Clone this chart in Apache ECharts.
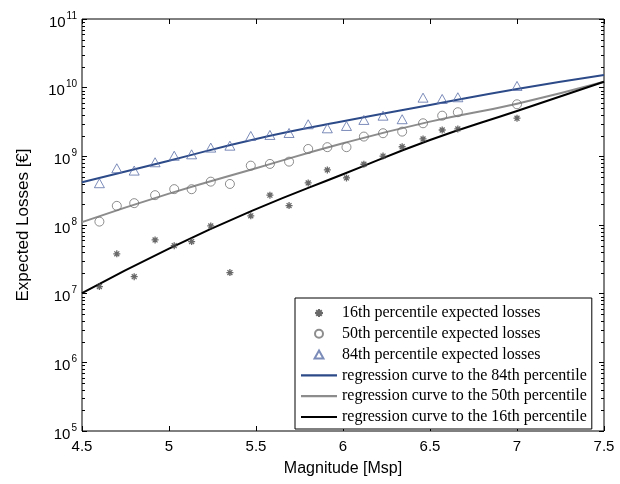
<!DOCTYPE html>
<html>
<head>
<meta charset="utf-8">
<script src="https://cdn.jsdelivr.net/npm/echarts@6/dist/echarts.min.js"></script>
<style>html,body{margin:0;padding:0;background:#fff}#c{width:620px;height:484px}</style>
</head>
<body>
<div id="c"></div>
<script>
// ---- data ----
var magnitudes = [4.6, 4.7, 4.8, 4.92, 5.03, 5.13, 5.24, 5.35, 5.47, 5.58, 5.69, 5.8, 5.91, 6.02, 6.12, 6.23, 6.34, 6.46, 6.57, 6.66, 7.0];
var p16Losses = [1.27e7, 3.8e7, 1.77e7, 6.07e7, 5.0e7, 5.73e7, 9.7e7, 2.03e7, 1.36e8, 2.72e8, 1.92e8, 4.1e8, 6.34e8, 4.85e8, 7.67e8, 1.01e9, 1.38e9, 1.79e9, 2.42e9, 2.51e9, 3.59e9];
var p50Losses = [1.12e8, 1.90e8, 2.08e8, 2.72e8, 3.33e8, 3.32e8, 4.28e8, 3.96e8, 7.32e8, 7.75e8, 8.37e8, 1.28e9, 1.36e9, 1.36e9, 1.94e9, 2.17e9, 2.29e9, 3.03e9, 3.91e9, 4.39e9, 5.73e9];
var p84Losses = [4.06e8, 6.7e8, 6.2e8, 8.2e8, 1.02e9, 1.07e9, 1.34e9, 1.43e9, 1.98e9, 2.05e9, 2.19e9, 2.93e9, 2.56e9, 2.77e9, 3.39e9, 3.91e9, 3.47e9, 7.15e9, 6.85e9, 7.25e9, 1.06e10];
var curveMagnitudes = [4.5, 5.0, 5.5, 6.0, 6.5, 7.0, 7.5];
var reg84 = [4.2e8, 8.65e8, 1.79e9, 3.24e9, 5.6e9, 9.57e9, 1.53e10];
var reg50 = [1.1e8, 2.86e8, 6.71e8, 1.55e9, 3.2e9, 5.85e9, 1.22e10];
var reg16 = [1.02e7, 4.54e7, 1.7e8, 5.48e8, 1.73e9, 4.58e9, 1.22e10];
var yDecadeExponents = [5, 6, 7, 8, 9, 10, 11];
var minorMultipliers = [2, 3, 4, 5, 6, 7, 8, 9];

var names = [
  '16th percentile expected losses',
  '50th percentile expected losses',
  '84th percentile expected losses',
  'regression curve to the 84th percentile',
  'regression curve to the 50th percentile',
  'regression curve to the 16th percentile'
];

function pairs(xs, ys) { return xs.map(function (x, i) { return [x, ys[i]]; }); }

var minorTickValues = [];
yDecadeExponents.slice(0, -1).forEach(function (e) {
  minorMultipliers.forEach(function (m) { minorTickValues.push(m * Math.pow(10, e)); });
});

var sans = 'Liberation Sans';
var serif = 'Liberation Serif';
var starPath = 'path://M0,-5L0,5M-5,0L5,0M-3.5,-3.5L3.5,3.5M-3.5,3.5L3.5,-3.5';
var triPath = 'path://M0,-5L5,4L-5,4Z';
var lineIcon = 'path://M0,0H36V2.2H0Z';

function majorY(pos) {
  return {
    type: 'log', logBase: 10, min: 1e5, max: 1e11, position: pos,
    axisLine: { show: false }, splitLine: { show: false }, axisLabel: { show: false },
    axisTick: { show: true, inside: true, length: 5, lineStyle: { color: '#000', width: 1 } }
  };
}

var yMain = majorY('left');
yMain.axisLabel = {
  show: true, margin: 5,
  formatter: function (v) { return '{b|10}{s|' + Math.round(Math.log10(v)) + '}'; },
  rich: {
    b: { fontFamily: sans, fontSize: 15, color: '#000', lineHeight: 22, verticalAlign: 'bottom' },
    s: { fontFamily: sans, fontSize: 10, color: '#000', lineHeight: 22, verticalAlign: 'top', padding: [3, 0, 0, 1] }
  }
};
yMain.name = 'Expected Losses [€]';
yMain.nameLocation = 'middle';
yMain.nameGap = 50;
yMain.nameTextStyle = { fontFamily: sans, fontSize: 17, color: '#000' };

var option = {
  animation: false,
  backgroundColor: '#fff',
  grid: { left: 82, right: 16, top: 19, bottom: 53, show: true, borderColor: '#000', borderWidth: 1, backgroundColor: 'transparent' },
  xAxis: [
    {
      type: 'value', min: 4.5, max: 7.5, interval: 0.5, position: 'bottom',
      axisLine: { show: false }, splitLine: { show: false },
      axisTick: { show: true, inside: true, length: 5, lineStyle: { color: '#000' } },
      axisLabel: { margin: 8, fontFamily: sans, fontSize: 15, color: '#000',
        formatter: function (v) { return String(v); } },
      name: 'Magnitude [Msp]', nameLocation: 'middle', nameGap: 30,
      nameTextStyle: { fontFamily: sans, fontSize: 16, color: '#000' }
    },
    {
      type: 'value', min: 4.5, max: 7.5, interval: 0.5, position: 'top',
      axisLine: { show: false }, splitLine: { show: false }, axisLabel: { show: false },
      axisTick: { show: true, inside: true, length: 5, lineStyle: { color: '#000' } }
    }
  ],
  yAxis: [yMain, majorY('right')],
  legend: {
    orient: 'vertical', left: 295, top: 298,
    data: [
      { name: names[0] },
      { name: names[1] },
      { name: names[2] },
      { name: names[3], icon: lineIcon },
      { name: names[4], icon: lineIcon },
      { name: names[5], icon: lineIcon }
    ],
    itemWidth: 36, itemHeight: 8, itemGap: 2.8,
    symbolKeepAspect: true,
    padding: [6, 5, 3, 6],
    backgroundColor: '#fff', borderColor: '#000', borderWidth: 1, borderRadius: 0,
    textStyle: { fontFamily: serif, fontSize: 16, color: '#000', lineHeight: 18 },
    selectedMode: false
  },
  series: [
    {
      name: names[0], type: 'scatter', data: pairs(magnitudes, p16Losses),
      symbol: starPath, symbolSize: 7, symbolKeepAspect: true,
      itemStyle: { color: 'rgba(0,0,0,0)', borderColor: '#444', borderWidth: 1.3 }, z: 3
    },
    {
      name: names[1], type: 'scatter', data: pairs(magnitudes, p50Losses),
      symbol: 'circle', symbolSize: 9,
      itemStyle: { color: 'rgba(0,0,0,0)', borderColor: '#707070', borderWidth: 1 }, z: 3
    },
    {
      name: names[2], type: 'scatter', data: pairs(magnitudes, p84Losses),
      symbol: triPath, symbolSize: 10, symbolKeepAspect: true,
      itemStyle: { color: 'rgba(0,0,0,0)', borderColor: '#5b6fa8', borderWidth: 1 }, z: 3
    },
    {
      name: names[3], type: 'line', data: pairs(curveMagnitudes, reg84), smooth: true,
      symbol: 'none', showSymbol: false, lineStyle: { color: '#2c4a88', width: 2 }, itemStyle: { color: '#2c4a88' }, z: 2
    },
    {
      name: names[4], type: 'line', data: pairs(curveMagnitudes, reg50), smooth: true,
      symbol: 'none', showSymbol: false, lineStyle: { color: '#8c8c8c', width: 2 }, itemStyle: { color: '#8c8c8c' }, z: 2
    },
    {
      name: names[5], type: 'line', data: pairs(curveMagnitudes, reg16), smooth: true,
      symbol: 'none', showSymbol: false, lineStyle: { color: '#000', width: 2 }, itemStyle: { color: '#000' }, z: 2
    }
  ]
};

var chart = echarts.init(document.getElementById('c'), null, { renderer: 'canvas' });
chart.setOption(option);

// minor logarithmic ticks on both vertical edges, positioned through the chart's own y scale
var tickEls = [];
minorTickValues.forEach(function (v) {
  var pl = chart.convertToPixel({ gridIndex: 0 }, [4.5, v]);
  var pr = chart.convertToPixel({ gridIndex: 0 }, [7.5, v]);
  if (!pl || !pr || isNaN(pl[1])) { return; }
  var y = Math.round(pl[1]) + 0.5;
  tickEls.push({ type: 'line', silent: true, z: 100,
    shape: { x1: pl[0], y1: y, x2: pl[0] + 3, y2: y }, style: { stroke: '#000', lineWidth: 1 } });
  tickEls.push({ type: 'line', silent: true, z: 100,
    shape: { x1: pr[0] - 3, y1: y, x2: pr[0], y2: y }, style: { stroke: '#000', lineWidth: 1 } });
});
chart.setOption({ graphic: tickEls });
</script>
</body>
</html>
